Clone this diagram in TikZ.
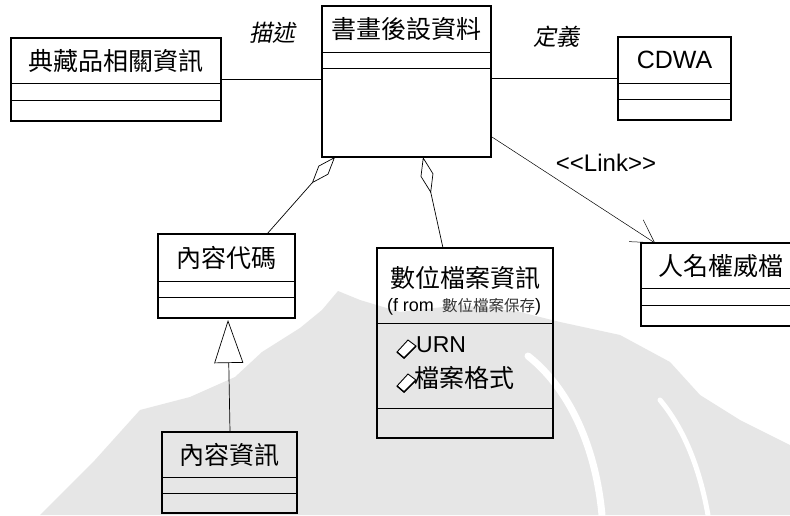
\documentclass[tikz,border=0pt]{standalone}
\usepackage{fontspec}
\usepackage{graphicx}
\setmainfont{Liberation Sans}
\newfontfamily\cjk{Noto Sans CJK TC}
\newfontfamily\cjkit{Noto Sans CJK TC}[FakeSlant=0.2]
\usetikzlibrary{arrows.meta,calc}
\definecolor{wm}{RGB}{230,230,230}
\tikzset{
  clsbox/.style={draw, line width=1.1pt, inner sep=0pt, outer sep=0pt},
  divline/.style={line width=0.9pt},
  clsname/.style={font=\cjk\fontsize{25}{25}\selectfont, inner sep=0pt},
  conn/.style={line width=0.7pt},
  lbl/.style={inner sep=0pt},
  attricon/.style={line width=0.9pt, fill=white},
}
\newcommand\umlcls[8]{%
  \node[clsbox, minimum width={(#4-#2)*1pt}, minimum height={(#5-#3)*1pt}] (#1) at ({(#2+#4)/2},{(#3+#5)/2}) {};
  \draw[divline] (#2,#6) -- (#4,#6);
  \draw[divline] (#2,#7) -- (#4,#7);
  \node[clsname] (#1-name) at ({(#2+#4)/2},{(#3+#6)/2}) {#8};
}
\begin{document}
\begin{tikzpicture}[x=1pt,y=-1pt]
\useasboundingbox (0,0) rectangle (790,515);
\fill[white] (0,0) rectangle (790,515);
% watermark
\fill[wm] (40,515) -- (65,490) -- (95,460) -- (140,410) -- (190,397) -- (235,377)
  -- (262,352) -- (300,328) -- (322,310) -- (338,291) -- (360,300) -- (400,312)
  -- (460,305) -- (520,312) -- (560,322) -- (620,335) -- (670,362) -- (700,395)
  -- (740,420) -- (790,445) -- (790,515) -- cycle;
\draw[white, line width=7pt, line cap=round] (528,356) .. controls (565,385) and (595,440) .. (602,515);
\draw[white, line width=5pt, line cap=round] (660,400) .. controls (685,430) and (700,470) .. (708,515);

% classes
\umlcls{ds}{11}{38}{221}{121}{83}{100}{典藏品相關資訊}
\umlcls{meta}{322}{6}{491}{157}{52}{68}{書畫後設資料}
\node[clsbox, minimum width=113pt, minimum height=83pt] (cdwa) at (674.5,78.5) {};
\draw[divline] (618,83) -- (731,83);
\draw[divline] (618,99) -- (731,99);
\node[inner sep=0pt, font=\fontsize{25}{25}\selectfont] (cdwa-name) at (674.5,60) {CDWA};
\umlcls{code}{158}{234}{295}{318}{281}{297}{內容代碼}
\umlcls{info}{162}{432}{297}{513}{477}{493}{內容資訊}
\umlcls{person}{641}{243}{800}{326}{288}{305}{人名權威檔}
\umlcls{file}{377}{248}{553}{438}{323}{408}{}
\node[clsname] (file-title) at (465,278) {數位檔案資訊};
\node[inner sep=0pt] (file-from) at (464,307) {\fontsize{18}{18}\selectfont (f rom\hspace{8pt}{\cjk\fontsize{15.5}{16}\selectfont\color{black!80}數位檔案保存})};
% attributes
\draw[attricon] (397,352) -- (408,340) -- (416,346) -- (404,358) -- cycle;
\draw[line width=1.4pt] (397,352) -- (404,358) -- (416,346);
\node[anchor=west, inner sep=0pt, font=\fontsize{23}{23}\selectfont] (urn) at (416,345) {URN};
\draw[attricon] (397,386) -- (408,374) -- (416,380) -- (404,392) -- cycle;
\draw[line width=1.4pt] (397,386) -- (404,392) -- (416,380);
\node[anchor=west, inner sep=0pt, font=\cjk\fontsize{25}{25}\selectfont] (fmt) at (414,378) {檔案格式};

% connectors
\draw[conn] (ds.east) -- (ds.east -| meta.west);
\draw[conn] (meta.east |- cdwa.west) -- (cdwa.west);
\draw[conn, {Diamond[open,length=35pt,width=13pt]}-] ($(meta.south west)+(13,0)$) -- ($(code.north west)+(109,0)$);
\draw[conn, {Diamond[open,length=37pt,width=13pt]}-] ($(meta.south west)+(101,0)$) -- ($(file.north west)+(66,0)$);
\draw[conn, -{Triangle[open,length=43pt,width=29pt]}] ($(info.north west)+(68,0)$) -- ($(code.south west)+(70,2)$);
\draw[line width=0.5pt, -{Straight Barb[length=22pt,width=26pt]}] ($(meta.north east)+(1,131)$) -- ($(person.north west)+(14,0)$);

% labels
\node[lbl, font=\cjkit\fontsize{23}{23}\selectfont] (lbl-desc) at (272,33) {描述};
\node[lbl, font=\cjkit\fontsize{23}{23}\selectfont] (lbl-def) at (556,37) {定義};
\node[lbl, font=\fontsize{24}{24}\selectfont] (lbl-link) at (606,163) {{<}{<}Link{>}{>}};
\end{tikzpicture}
\end{document}
